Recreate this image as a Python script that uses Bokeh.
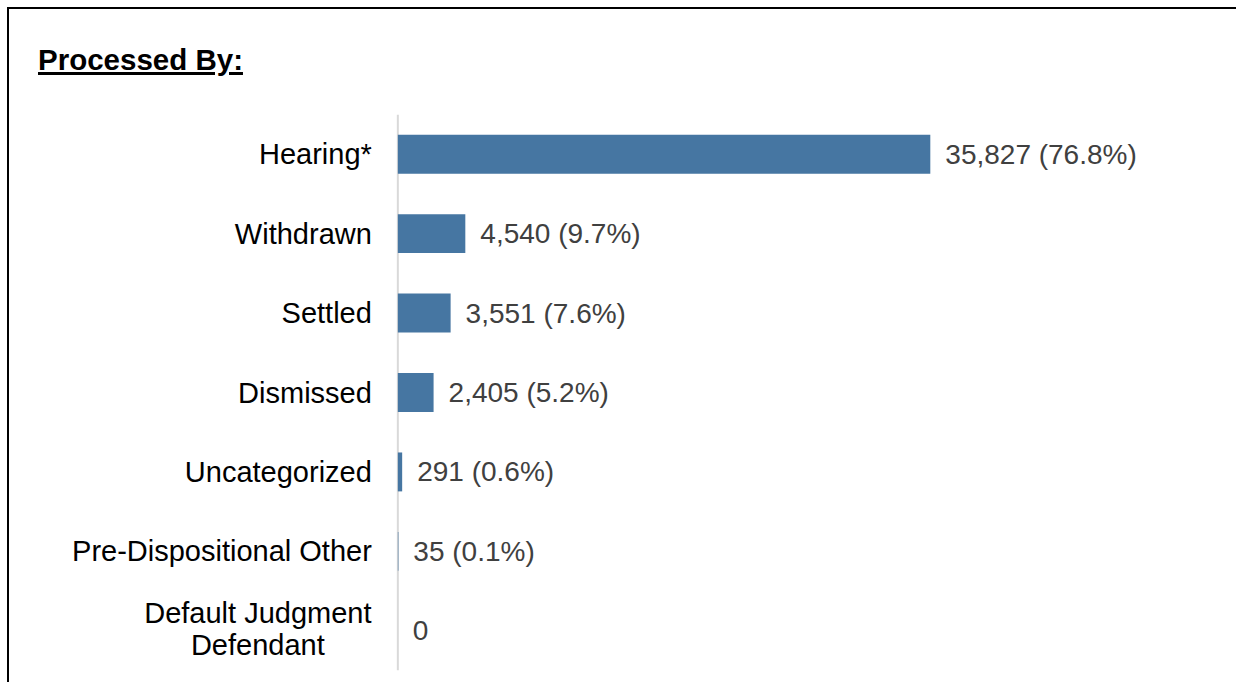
from bokeh.plotting import figure
from bokeh.models import Range1d, FactorRange, ColumnDataSource, Div, Column, Span
from bokeh.core.properties import value
from bokeh.embed import file_html
from bokeh.resources import INLINE

# Case dispositions
categories = ["Hearing*", "Withdrawn", "Settled", "Dismissed", "Uncategorized",
              "Pre-Dispositional Other", "Default Judgment\nDefendant"]
counts = [35827, 4540, 3551, 2405, 291, 35, 0]
percents = [76.8, 9.7, 7.6, 5.2, 0.6, 0.1, 0.0]

labels = [f"{c:,} ({p:.1f}%)" if c > 0 else "0" for c, p in zip(counts, percents)]

FONT = "Liberation Sans"
BAR_COLOR = "#4676A2"

source = ColumnDataSource(dict(cat=categories, count=counts, label=labels))

# category names: single lines right-aligned against the axis,
# wrapped names as a centred block of lines
cat_rows = dict(cat=[], text=[], align=[], dx=[], dy=[])
for c in categories:
    parts = c.split("\n")
    if len(parts) == 1:
        cat_rows["cat"].append(c); cat_rows["text"].append(c)
        cat_rows["align"].append("right"); cat_rows["dx"].append(-26); cat_rows["dy"].append(0)
    else:
        n = len(parts)
        for i, part in enumerate(parts):
            cat_rows["cat"].append(c); cat_rows["text"].append(part)
            cat_rows["align"].append("center"); cat_rows["dx"].append(-140)
            cat_rows["dy"].append(32 * (i - (n - 1) / 2) - 2)
cat_source = ColumnDataSource(cat_rows)

p = figure(
    width=1227, height=568,
    y_range=FactorRange(factors=categories[::-1], range_padding=0),
    x_range=Range1d(-26130, 55420),
    output_backend="svg", toolbar_location=None,
    min_border_left=0, min_border_right=15,
    min_border_top=0, min_border_bottom=12,
)

p.add_layout(Span(location=0, dimension="height", line_color="#D9D9D9",
                  line_width=2, level="underlay"))

p.hbar(y="cat", right="count", left=0, height=0.49, source=source,
       fill_color=BAR_COLOR, line_color=None)

p.text(x="count", y="cat", text="label", source=source,
       x_offset=15, text_align="left", text_baseline="middle",
       text_font=value(FONT), text_font_size="28px", text_color="#404040")

p.text(x=0, y="cat", text="text", source=cat_source,
       x_offset="dx", y_offset="dy", text_align="align", text_baseline="middle",
       text_font=value(FONT), text_font_size="29px", text_color="#000000")

p.xaxis.visible = False
p.yaxis.visible = False
p.xgrid.visible = False
p.ygrid.visible = False
p.outline_line_color = None

title = Div(
    text='<div style="font-family:\'Liberation Sans\';font-weight:bold;font-size:29.5px;'
         'text-decoration:underline;text-decoration-thickness:3px;line-height:34px;'
         'padding:34px 0 0 29px;">Processed By:</div>',
    width=1227, height=105, margin=0,
)

layout = Column(
    title, p,
    styles={"margin": "7px 0 0 7px", "border-left": "2px solid black",
            "border-top": "2px solid black", "background": "white"},
    margin=0, spacing=0,
)

open("out.html", "w").write(file_html(layout, INLINE))
